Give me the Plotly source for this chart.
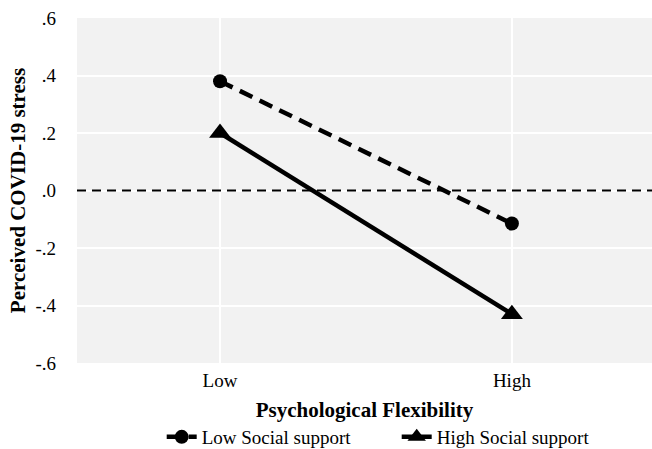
import plotly.graph_objects as go

categories = ["Low", "High"]
x_pos = [0, 1]
low_support = [0.38, -0.115]
high_support = [0.20, -0.43]
y_ticks = [0.6, 0.4, 0.2, 0.0, -0.2, -0.4, -0.6]
y_tick_labels = [".6", ".4", ".2", ".0", "-.2", "-.4", "-.6"]

font_family = "Liberation Serif, Times New Roman, serif"

fig = go.Figure()
fig.add_trace(go.Scatter(
    x=x_pos, y=low_support, name="Low Social support", mode="lines+markers",
    line=dict(color="black", width=4.5, dash="14px,8px"),
    marker=dict(symbol="circle", size=14, color="black"),
))
fig.add_trace(go.Scatter(
    x=x_pos, y=high_support, name="High Social support", mode="lines+markers",
    line=dict(color="black", width=4.5),
    marker=dict(symbol="triangle-up", size=19, color="black"),
))

fig.add_shape(type="line", xref="paper", yref="y", x0=0, x1=1, y0=0, y1=0,
              line=dict(color="black", width=2, dash="9px,6px"), layer="above")

fig.update_layout(
    width=652, height=449,
    margin=dict(l=77, r=0, t=18, b=86, autoexpand=False),
    paper_bgcolor="white", plot_bgcolor="#f2f2f2",
    font=dict(family=font_family, size=19, color="black"),
    showlegend=True,
    legend=dict(orientation="h", x=0.556, xanchor="center", y=-0.2145, yanchor="middle",
                font=dict(size=19), tracegroupgap=0, entrywidth=190),
    xaxis=dict(
        range=[-0.49, 1.48], tickmode="array", tickvals=x_pos, ticktext=categories,
        showgrid=True, gridcolor="white", gridwidth=2, zeroline=False,
        showline=False, ticks="", tickfont=dict(size=19), ticklabelstandoff=4,
        automargin=False, ticklabeloverflow="allow",
        title=dict(text="<b>Psychological Flexibility</b>", font=dict(size=21), standoff=12),
    ),
    yaxis=dict(
        range=[-0.6, 0.6], tickmode="array", tickvals=y_ticks, ticktext=y_tick_labels,
        showgrid=True, gridcolor="white", gridwidth=2, zeroline=False,
        showline=False, ticks="", tickfont=dict(size=19), ticklabelstandoff=20,
        automargin=False, ticklabeloverflow="allow",
        title=dict(text="<b>Perceived COVID-19 stress</b>", font=dict(size=21), standoff=4),
    ),
)

fig.write_html(
    "out.html",
    config={"displayModeBar": False},
    post_script="document.body.style.margin='0';document.body.style.overflow='hidden';",
)
